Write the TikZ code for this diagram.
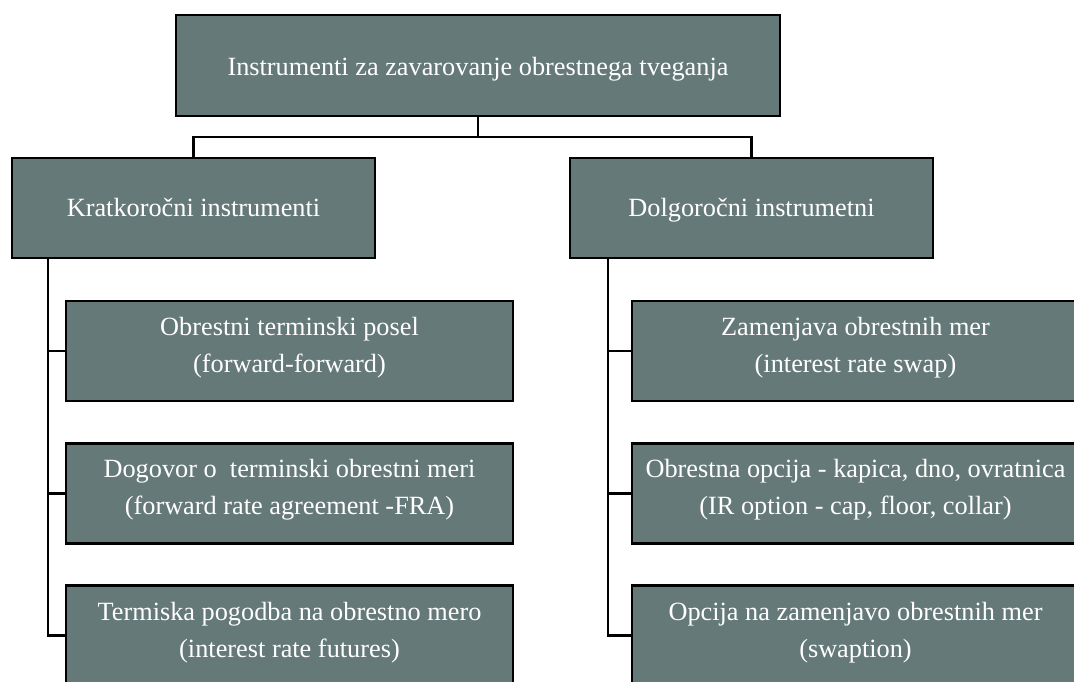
\documentclass[tikz,border=0pt]{standalone}
\usepackage{fontspec}
\setmainfont{Liberation Serif}
\usepackage{xcolor}
\usepackage{tikz}
\usetikzlibrary{positioning}

\definecolor{boxgray}{RGB}{101,121,120}

\begin{document}
\begin{tikzpicture}[
  x=1pt, y=-1pt,
  every node/.style={rectangle, draw=black, line width=2.8pt, fill=boxgray,
    text=white, align=center, inner sep=0pt,
    font=\fontsize{26.3}{37}\selectfont,
    execute at begin node={\rule{0pt}{28pt}},
    execute at end node={\rule[-12pt]{0pt}{0pt}}},
  wire/.style={line width=2.6pt},
  bigbox/.style={minimum width=604pt, minimum height=101pt,
    execute at begin node={\rule{0pt}{32pt}}},
  groupbox/.style={minimum width=363pt, minimum height=100pt},
  itembox/.style={minimum width=447pt, minimum height=100pt,
    execute at begin node={}, execute at end node={}},
]
\useasboundingbox (0,0) rectangle (1074,682);
\clip (0,0) rectangle (1074,682);

%% Root
\node[bigbox] (root) at (478,65.5) {Instrumenti za zavarovanje obrestnega tveganja};

%% Groups
\node[groupbox] (kratko) at (193.5,208) {Kratkoro\v{c}ni instrumenti};
\node[groupbox] (dolgo)  at (751.5,208) {Dolgoro\v{c}ni instrumetni};

%% Short-term items
\node[itembox] (k1) at (289.5,351)      {Obrestni terminski posel\\(forward-forward)};
\node[itembox] (k2) [below=39.5pt of k1]  {Dogovor o\ \ terminski obrestni meri\\(forward rate agreement -FRA)};
\node[itembox] (k3) [below=39.5pt of k2]  {Termiska pogodba na obrestno mero\\(interest rate futures)};

%% Long-term items
\node[itembox] (d1) at (855.5,351)      {Zamenjava obrestnih mer\\(interest rate swap)};
\node[itembox] (d2) [below=39.5pt of d1]  {Obrestna opcija - kapica, dno, ovratnica\\(IR option - cap, floor, collar)};
\node[itembox] (d3) [below=39.5pt of d2]  {Opcija na zamenjavo obrestnih mer\\(swaption)};

%% Connectors
\coordinate (split) at (478,137);
\coordinate (kbus)  at (48,258);
\coordinate (dbus)  at (608,258);

\draw[wire] (root.south) -- (split);
\draw[wire] (kratko.north) |- (split) -| (dolgo.north);

\draw[wire] (kbus) |- (k3.west);
\draw[wire] (kbus |- k1.west) -- (k1.west);
\draw[wire] (kbus |- k2.west) -- (k2.west);

\draw[wire] (dbus) |- (d3.west);
\draw[wire] (dbus |- d1.west) -- (d1.west);
\draw[wire] (dbus |- d2.west) -- (d2.west);

\end{tikzpicture}
\end{document}
